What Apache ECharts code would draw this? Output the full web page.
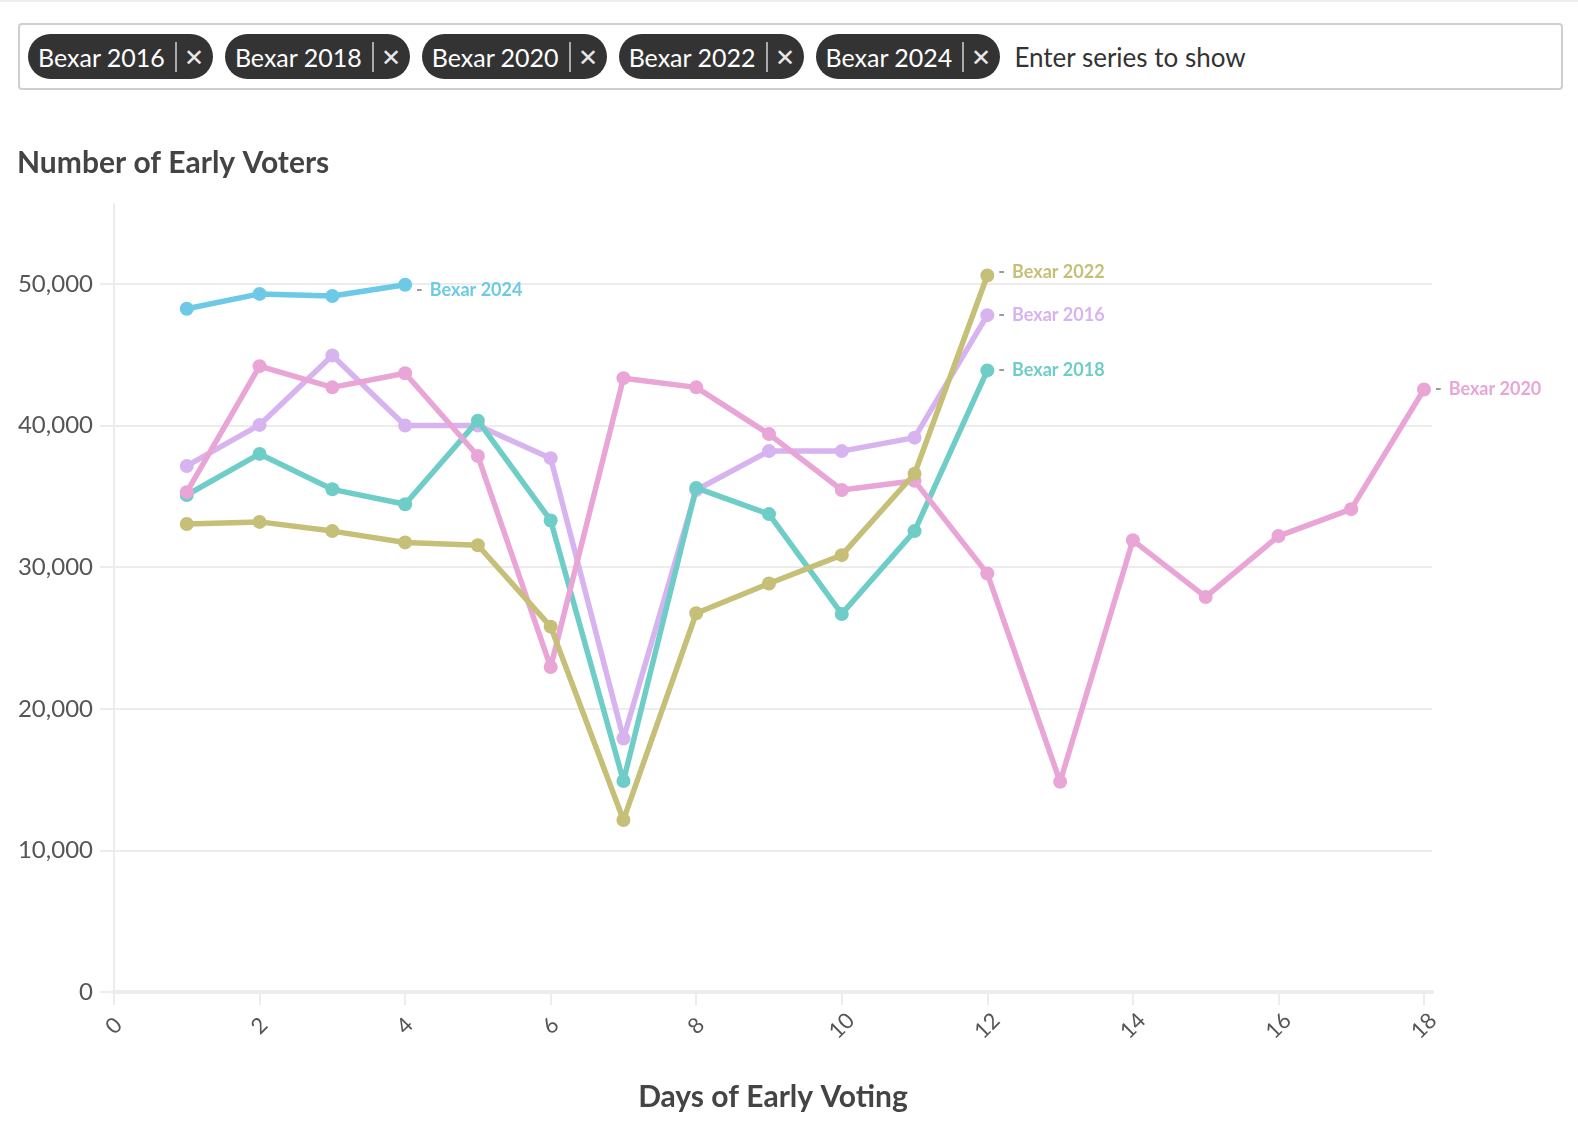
<!DOCTYPE html>
<html>
<head>
<meta charset="utf-8">
<script src="https://cdn.jsdelivr.net/npm/echarts@6/dist/echarts.min.js"></script>
<style>
  html, body { margin: 0; padding: 0; background: #fff; overflow: hidden; width: 1578px; height: 1126px; }
  body { position: relative; font-family: Lato, "Open Sans", sans-serif; }
  #topline { position: absolute; left: 0; top: 0; width: 1578px; height: 2px; background: #eeeeee; z-index: 3; }
  #chart { position: absolute; left: 0; top: 0; width: 1578px; height: 1126px; }
  #picker { position: absolute; left: 18px; top: 23px; width: 1545px; height: 67px; box-sizing: border-box; border: 2px solid #cfcfcf; border-radius: 4px; display: flex; align-items: center; padding-left: 8px; z-index: 2; background: #fff; }
  .tag { height: 45px; border-radius: 23px; background: #333333; color: #fff; display: flex; align-items: center; padding: 0 9px 0 10px; margin-right: 12px; font-size: 25px; white-space: nowrap; box-sizing: border-box; }
  .tag .sep { width: 2px; height: 30px; background: #aaa; margin: 0 7px 0 10px; }
  .tag .x { font-size: 24px; color: #e8e8e8; }
  .placeholder { font-size: 26px; color: #333; margin-left: 2px; }
</style>
</head>
<body>
<div id="topline"></div>
<div id="chart"></div>
<div id="picker"></div>
<script>
// ---- data ----
const seriesNames = ['Bexar 2016', 'Bexar 2018', 'Bexar 2020', 'Bexar 2022', 'Bexar 2024'];
const bexar2016 = [37150, 40050, 44950, 40000, 40000, 37700, 17900, 35450, 38200, 38200, 39150, 47800];
const bexar2018 = [35100, 38000, 35500, 34450, 40350, 33300, 14900, 35600, 33750, 26700, 32550, 43900];
const bexar2020 = [35300, 44200, 42700, 43700, 37850, 22950, 43350, 42700, 39400, 35450, 36100, 29550, 14850, 31900, 27900, 32200, 34100, 42550];
const bexar2022 = [33050, 33200, 32550, 31750, 31550, 25800, 12150, 26750, 28850, 30850, 36600, 50600];
const bexar2024 = [48250, 49300, 49150, 49950];
const yTicks = [0, 10000, 20000, 30000, 40000, 50000];
const xTicks = [0, 2, 4, 6, 8, 10, 12, 14, 16, 18];

const colors = ['#d7b3ef', '#6fcdc8', '#e8a5d6', '#c5bf78', '#6ccae6'];
const allData = [bexar2016, bexar2018, bexar2020, bexar2022, bexar2024];
const labelOffsets = [[0, 0], [0, 0], [0, 0], [0, -3], [0, 5]];

// ---- tag picker ----
const picker = document.getElementById('picker');
seriesNames.forEach(n => {
  const t = document.createElement('div');
  t.className = 'tag';
  t.innerHTML = '<span>' + n + '</span><span class="sep"></span><span class="x">\u2715</span>';
  picker.appendChild(t);
});
const ph = document.createElement('div');
ph.className = 'placeholder';
ph.textContent = 'Enter series to show';
picker.appendChild(ph);

// ---- chart ----
const chart = echarts.init(document.getElementById('chart'), null, { width: 1578, height: 1126 });
const series = allData.map((vals, si) => ({
  name: seriesNames[si],
  type: 'line',
  data: vals.map((v, i) => {
    const item = { value: [i + 1, v] };
    if (i === vals.length - 1) {
      item.label = {
        show: true,
        position: 'right',
        distance: 4,
        offset: labelOffsets[si],
        formatter: '{d|-}{n|' + seriesNames[si] + '}',
        rich: {
          d: { color: '#999', fontSize: 18, fontWeight: 'bold', fontFamily: 'Lato', padding: [0, 7, 0, 0] },
          n: { color: colors[si], fontSize: 18, fontWeight: 'bold', fontFamily: 'Lato' }
        }
      };
    }
    return item;
  }),
  symbol: 'circle',
  symbolSize: 14,
  lineStyle: { width: 5.5, color: colors[si] },
  itemStyle: { color: colors[si] },
  label: { show: false },
  emphasis: { disabled: true },
  z: 2 + si
}));

chart.setOption({
  animation: false,
  backgroundColor: '#fff',
  textStyle: { fontFamily: 'Lato' },
  title: {
    text: 'Number of Early Voters',
    left: 12,
    top: 143,
    textStyle: { fontSize: 30, fontWeight: 'bold', color: '#444', fontFamily: 'Lato' }
  },
  grid: { left: 114, right: 146, top: 204, bottom: 134, containLabel: false },
  xAxis: {
    type: 'value',
    min: 0,
    max: 18.11,
    interval: 2,
    name: 'Days of Early Voting',
    nameLocation: 'middle',
    nameGap: 90,
    nameTextStyle: { fontSize: 30, fontWeight: 'bold', color: '#444', fontFamily: 'Lato' },
    axisLine: { show: true, lineStyle: { color: '#ececec', width: 4 } },
    axisTick: { show: true, length: 13, lineStyle: { color: '#ececec', width: 2 } },
    axisLabel: {
      showMaxLabel: false,
      rotate: 45,
      align: 'center',
      verticalAlign: 'middle',
      margin: 34,
      fontSize: 22,
      color: '#555',
      fontFamily: 'Lato',
      formatter: v => (xTicks.indexOf(v) >= 0 ? String(v) : '')
    },
    splitLine: { show: false }
  },
  yAxis: {
    type: 'value',
    min: 0,
    max: 55650,
    interval: 10000,
    axisLine: { show: true, lineStyle: { color: '#ececec', width: 2 } },
    axisTick: { show: true, length: 14, lineStyle: { color: '#ececec', width: 2 } },
    axisLabel: {
      showMaxLabel: false,
      margin: 21,
      fontSize: 24,
      color: '#555',
      fontFamily: 'Lato',
      formatter: v => (yTicks.indexOf(v) >= 0 ? v.toLocaleString('en-US') : '')
    },
    splitLine: { show: true, showMinLine: false, showMaxLine: false, lineStyle: { color: '#ececec', width: 2 } }
  },
  series: series
});
</script>
</body>
</html>
